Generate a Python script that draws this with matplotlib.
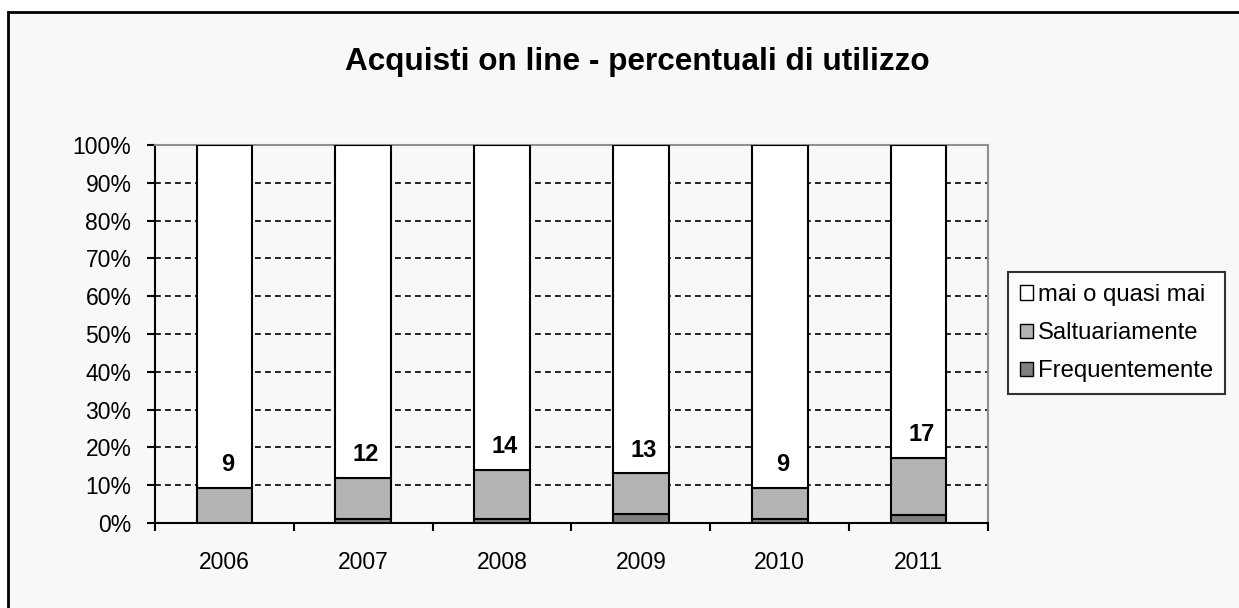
import matplotlib
matplotlib.use("Agg")
import matplotlib.pyplot as plt
from matplotlib.patches import Rectangle, Patch
import numpy as np

years = ["2006", "2007", "2008", "2009", "2010", "2011"]
frequentemente = [0.0, 1.0, 1.0, 2.5, 1.0, 2.0]
saltuariamente = [9.2, 11.0, 13.0, 10.6, 8.3, 15.3]
mai = [100 - f - s for f, s in zip(frequentemente, saltuariamente)]
labels = [9, 12, 14, 13, 9, 17]
yticks = list(range(0, 101, 10))

plt.rcParams['font.family'] = ['Liberation Sans', 'DejaVu Sans']

W, H = 1239, 608
fig = plt.figure(figsize=(W / 100, H / 100), dpi=100)
fig.patch.set_facecolor("white")

# outer chart border
border = Rectangle((8 / W, 0 - 0.01), 1.1, (H - 12) / H + 0.01, transform=fig.transFigure,
                   facecolor="#f8f8f8", edgecolor="black", linewidth=2, zorder=-5)
fig.patches.append(border)

ax = fig.add_axes([155 / W, (H - 523) / H, 833 / W, 378 / H])
ax.set_facecolor("#f8f8f8")

x = np.arange(len(years))
bw = 0.4
ax.bar(x, frequentemente, bw, color="#808080", edgecolor="black", linewidth=1.5, zorder=3)
ax.bar(x, saltuariamente, bw, bottom=frequentemente, color="#b3b3b3", edgecolor="black", linewidth=1.5, zorder=3)
bot2 = [f + s for f, s in zip(frequentemente, saltuariamente)]
ax.bar(x, mai, bw, bottom=bot2, color="white", edgecolor="black", linewidth=1.5, zorder=3)

for xi, top, lab in zip(x, bot2, labels):
    ax.text(xi + 0.02, top + 6.2, str(lab), ha="center", va="center",
            fontsize=17, fontweight="bold", zorder=4)

ax.set_xlim(-0.5, len(years) - 0.5)
ax.set_ylim(0, 100)
ax.set_yticks(yticks)
ax.set_yticklabels([f"{t}%" for t in yticks], fontsize=16.5)
for t in yticks[1:]:
    ax.axhline(t, color="black", linestyle=(0, (3.5, 2.5)), linewidth=1.2, zorder=1)

ax.set_xticks(x)
ax.set_xticklabels(years, fontsize=16.5)
ax.tick_params(axis="x", length=0, pad=20)
ax.set_xticks(np.arange(-0.5, len(years)), minor=True)
ax.tick_params(axis="x", which="minor", length=6, width=1.5, direction="out")
ax.tick_params(axis="y", length=6, width=1.5, direction="out", pad=11)

ax.spines["left"].set_linewidth(1.5)
ax.spines["bottom"].set_linewidth(1.5)
ax.spines["top"].set_color("#909090")
ax.spines["right"].set_color("#909090")
ax.spines["top"].set_linewidth(1.5)
ax.spines["right"].set_linewidth(1.5)

fig.text(637 / W, 1 - 62 / H, "Acquisti on line - percentuali di utilizzo",
         ha="center", va="center", fontsize=22.7, fontweight="bold")

handles = [Patch(facecolor="white", edgecolor="black", label="mai o quasi mai"),
           Patch(facecolor="#b3b3b3", edgecolor="black", label="Saltuariamente"),
           Patch(facecolor="#808080", edgecolor="black", label="Frequentemente")]
leg = fig.legend(handles=handles, loc="upper left",
                 bbox_to_anchor=(1008 / W, 1 - 272 / H), bbox_transform=fig.transFigure,
                 fontsize=17.2, frameon=True, fancybox=False, edgecolor="black",
                 handlelength=0.55, handleheight=0.55, handletextpad=0.2,
                 labelspacing=0.68, borderpad=0.5, borderaxespad=0)
leg.get_frame().set_linewidth(1.5)
leg.get_frame().set_facecolor("white")

fig.savefig("out.png", dpi=100)
